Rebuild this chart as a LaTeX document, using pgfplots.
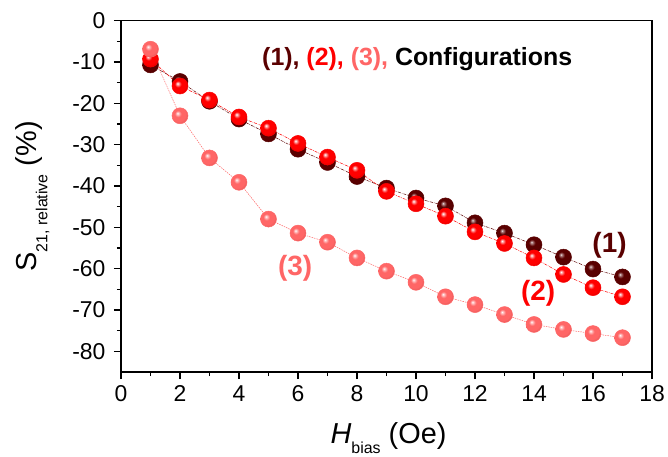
\documentclass[border=0pt]{standalone}
\usepackage{pgfplots}
\pgfplotsset{compat=1.18}
\usepackage{fontspec}
\setmainfont{Liberation Sans}
\definecolor{c1}{HTML}{5A0000}
\definecolor{c2}{HTML}{FF0000}
\definecolor{c3}{HTML}{FF6666}
\pgfdeclareradialshading{shA}{\pgfpoint{-8bp}{8bp}}{color(0bp)=(white); color(2bp)=(c1!40!white); color(10bp)=(c1); color(22bp)=(c1); color(30bp)=(c1!80!black); color(50bp)=(c1!80!black)}
\pgfdeclareradialshading{shB}{\pgfpoint{-8bp}{8bp}}{color(0bp)=(white); color(3bp)=(c2!30!white); color(10bp)=(c2); color(22bp)=(c2); color(30bp)=(c2!85!black); color(50bp)=(c2!85!black)}
\pgfdeclareradialshading{shC}{\pgfpoint{-8bp}{8bp}}{color(0bp)=(white); color(3bp)=(c3!35!white); color(10bp)=(c3); color(22bp)=(c3); color(30bp)=(c3!88!black); color(50bp)=(c3!88!black)}
\pgfdeclareplotmark{ballA}{\shade[shading=shA] (0pt,0pt) circle (\pgfplotmarksize);}
\pgfdeclareplotmark{ballB}{\shade[shading=shB] (0pt,0pt) circle (\pgfplotmarksize);}
\pgfdeclareplotmark{ballC}{\shade[shading=shC] (0pt,0pt) circle (\pgfplotmarksize);}
\begin{document}
\begin{tikzpicture}
\begin{axis}[
  scale only axis,
  width=531bp, height=351.3bp,
  xmin=0, xmax=18, ymin=-85, ymax=0,
  xtick={0,2,...,18}, ytick={-80,-70,...,0},
  minor x tick num=1, minor y tick num=1,
  tick align=outside, tick pos=left,
  major tick length=7bp, minor tick length=4bp,
  every tick/.style={black, line width=1.1pt},
  axis line style={line width=1.1pt},
  /pgf/number format/assume math mode=true,
  ticklabel style={font=\fontsize{23}{25}\selectfont},
  xticklabel shift=3bp, yticklabel shift=5bp,
  every axis x label/.style={at={(axis description cs:0.5,0)}, anchor=base, yshift=-71bp, xshift=2bp},
  every axis y label/.style={at={(axis description cs:0,0.5)}, rotate=90, anchor=base, yshift=84bp},
  xlabel={\fontsize{29}{31}\selectfont\textit{H}\raisebox{-0.36em}{\fontsize{16}{18}\selectfont bias} (Oe)},
  ylabel={\fontsize{29}{31}\selectfont S\raisebox{-0.36em}{\fontsize{16}{18}\selectfont 21, relative} (\%)},
  clip=false,
]
\addplot[c1, line width=0.5pt, dash pattern=on 3pt off 1pt on 0.6pt off 1pt, mark=ballA, mark size=8bp, mark options={solid}]
coordinates {(1,-10.7)(2,-14.7)(3,-19.5)(4,-23.8)(5,-27.4)(6,-31.1)(7,-34.3)(8,-37.7)(9,-40.5)(10,-42.9)(11,-44.8)(12,-48.9)(13,-51.4)(14,-54.2)(15,-57.2)(16,-60.1)(17,-62.0)};
\addplot[c2, line width=0.5pt, dash pattern=on 3pt off 1pt on 0.6pt off 1pt, mark=ballB, mark size=8bp, mark options={solid}]
coordinates {(1,-9.3)(2,-15.8)(3,-19.2)(4,-23.3)(5,-26.0)(6,-29.7)(7,-33.0)(8,-36.2)(9,-41.3)(10,-44.3)(11,-47.3)(12,-51.1)(13,-53.9)(14,-57.4)(15,-61.4)(16,-64.6)(17,-66.8)};
\addplot[c3, line width=0.5pt, dash pattern=on 1.5pt off 1pt, mark=ballC, mark size=8bp, mark options={solid}]
coordinates {(1,-6.9)(2,-23.0)(3,-33.2)(4,-39.1)(5,-48.0)(6,-51.4)(7,-53.6)(8,-57.4)(9,-60.6)(10,-63.3)(11,-66.8)(12,-68.7)(13,-71.1)(14,-73.5)(15,-74.7)(16,-75.7)(17,-76.7)};
\node[font=\fontsize{25}{27}\selectfont\bfseries, anchor=west, inner sep=0pt] at (axis cs:4.78,-9.35) {\textcolor{c1}{(1),} \textcolor{c2}{(2),} \textcolor{c3}{(3),} Configurations};
\node[font=\fontsize{28}{30}\selectfont\bfseries, text=c1] at (axis cs:16.56,-54.3) {(1)};
\node[font=\fontsize{28}{30}\selectfont\bfseries, text=c2] at (axis cs:14.14,-66.0) {(2)};
\node[font=\fontsize{28}{30}\selectfont\bfseries, text=c3] at (axis cs:5.9,-59.9) {(3)};
\end{axis}
\pgfresetboundingbox
\path[use as bounding box] ([xshift=-121bp,yshift=-85bp]current axis.south west) rectangle ([xshift=16bp,yshift=20.7bp]current axis.north east);
\end{tikzpicture}
\end{document}
